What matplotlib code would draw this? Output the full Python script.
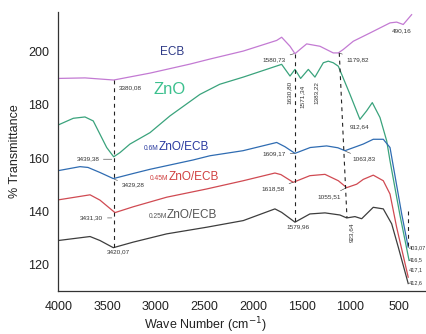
import matplotlib
matplotlib.use("Agg")
import matplotlib.pyplot as plt

plt.rcParams["font.family"] = ["Liberation Sans", "DejaVu Sans"]

# ---- data (wave number, % transmittance) ----
ecb_wn = [4000, 3726, 3431, 3058, 2647, 2442, 2100, 1757, 1706, 1620, 1569, 1518, 1449, 1312,
          1176, 1124, 1073, 970, 799, 593, 525, 457, 371]
ecb_t = [190.0, 190.2, 189.4, 192.0, 195.4, 197.3, 200.3, 204.3, 205.5, 202.1, 199.3, 200.9, 203.0, 202.1,
         199.6, 199.6, 200.9, 204.0, 207.1, 210.9, 211.2, 210.3, 214.0]

zno_wn = [4000, 3846, 3726, 3641, 3572, 3503, 3431, 3366, 3264, 3058, 2853, 2545, 2342, 2100, 1706,
          1620, 1569, 1511, 1432, 1364, 1278, 1227, 1176, 1124, 1004, 902, 833, 775, 696, 627, 593, 490, 397]
zno_t = [172.5, 175.0, 175.5, 174.0, 169.0, 164.0, 160.5, 162.1, 165.3, 169.6, 175.9, 184.0, 187.8, 190.5, 195.3,
         190.9, 193.4, 190.0, 193.4, 190.5, 195.9, 196.5, 195.9, 194.6, 184.0, 174.6, 177.8, 180.9, 175.3, 166.5,
         159.0, 138.4, 121.5]

m06_wn = [4000, 3777, 3695, 3572, 3435, 3233, 3058, 2617, 2442, 2103, 1757, 1672, 1569, 1412, 1244,
          1128, 1056, 935, 868, 765, 662, 593, 542, 473, 406]
m06_t = [155.3, 156.8, 156.5, 154.6, 152.3, 154.2, 155.8, 159.3, 160.9, 162.8, 165.9, 164.3, 161.8, 164.0, 164.6,
         163.9, 162.8, 164.4, 165.3, 167.1, 167.1, 164.0, 153.4, 139.0, 126.5]

m045_wn = [4000, 3674, 3572, 3418, 3230, 2887, 2476, 2100, 1775, 1713, 1587, 1416, 1261, 1124,
           1038, 935, 868, 765, 662, 593, 525, 406]
m045_t = [144.3, 146.2, 144.2, 139.5, 141.7, 145.3, 148.4, 151.5, 154.4, 153.8, 150.9, 153.4, 153.9, 151.5,
          148.9, 150.2, 152.0, 153.6, 151.5, 146.5, 134.0, 115.2]

m025_wn = [4000, 3674, 3572, 3435, 3230, 2887, 2476, 2100, 1775, 1706, 1569, 1416, 1261, 1107,
           1038, 953, 884, 765, 662, 576, 508, 406]
m025_t = [129.0, 130.5, 129.0, 126.3, 128.4, 131.5, 134.0, 136.5, 140.9, 139.6, 135.9, 139.0, 139.4, 138.6,
          137.5, 138.0, 137.2, 141.5, 140.9, 135.3, 126.5, 112.8]

xticks = [4000, 3500, 3000, 2500, 2000, 1500, 1000, 500]
yticks = [120, 140, 160, 180, 200]

c_ecb = "#c37ad3"
c_zno = "#3aa37c"
c_06 = "#2f6cb2"
c_045 = "#d04a52"
c_025 = "#3d3d3d"

fig = plt.figure(figsize=(4.27, 3.34), dpi=100)
ax = fig.add_axes([58.3 / 427, 1 - 291 / 334, 1 - 58.3 / 427, (291 - 12) / 334])

lw = 0.9
ax.plot(ecb_wn, ecb_t, color=c_ecb, lw=lw)
ax.plot(zno_wn, zno_t, color=c_zno, lw=lw)
ax.plot(m06_wn, m06_t, color=c_06, lw=lw)
ax.plot(m045_wn, m045_t, color=c_045, lw=lw)
ax.plot(m025_wn, m025_t, color=c_025, lw=lw)

ax.set_xlim(4000, 213)
ax.set_ylim(110, 215)
ax.set_xticks(xticks)
ax.set_yticks(yticks)
ax.tick_params(length=0, labelsize=9, colors="#222222")
ax.tick_params(axis="y", pad=6.5)
ax.tick_params(axis="x", pad=7)
for s in ["top", "right"]:
    ax.spines[s].set_visible(False)
for s in ["left", "bottom"]:
    ax.spines[s].set_color("#333333")
    ax.spines[s].set_linewidth(0.9)

fig.text(15 / 427, 1 - 151 / 334, "% Transmittance", rotation=90, ha="center", va="center", fontsize=9,
         color="#222222")
fig.text(205 / 427, 1 - 325 / 334, "Wave Number (cm$^{-1}$)", ha="center", va="center", fontsize=9,
         color="#222222")

# dashed guide lines
dash = dict(color="#222222", lw=0.8, linestyle=(0, (3.5, 3.5)))
ax.plot([3431, 3431], [189.3, 126.3], **dash)
ax.plot([1569, 1569], [199.3, 135.9], **dash)
ax.plot([1114, 1035], [199.6, 137.5], **dash)
ax.plot([406, 406], [140.2, 126.5], **dash)

# series labels
ax.text(2835, 200.0, "ECB", color="#2e3a87", fontsize=8.5, ha="center", va="center")
ax.text(2853, 185.9, "ZnO", color="#3cc08e", fontsize=12, ha="center", va="center")

def series_label(x, y, pre, color):
    ax.text(x, y, pre, color=color, fontsize=4.8, ha="right", va="baseline")
    ax.text(x, y, "ZnO/ECB", color=color, fontsize=8.5, ha="left", va="baseline")

series_label(2973, 163.1, "0.6M", "#2a3aa0")
series_label(2870, 151.9, "0.45M", "#d04040")
series_label(2887, 137.6, "0.25M", "#555555")

# peak annotations
fs = 4.6
tc = "#333333"
ax.text(3380, 186.5, "3380,08", fontsize=fs, color=tc, ha="left", va="center")
ax.annotate("3439,38", xy=(3450, 159.6), xytext=(3580, 159.6), fontsize=fs, color=tc, ha="right", va="center",
            arrowprops=dict(arrowstyle="-", lw=0.4, color=tc, shrinkA=1, shrinkB=0))
ax.annotate("3429,28", xy=(3425, 152.0), xytext=(3349, 149.9), fontsize=fs, color=tc, ha="left", va="center",
            arrowprops=dict(arrowstyle="-", lw=0.4, color=tc, shrinkA=1, shrinkB=0))
ax.annotate("3431,30", xy=(3450, 137.5), xytext=(3538, 137.5), fontsize=fs, color=tc, ha="right", va="center",
            arrowprops=dict(arrowstyle="-", lw=0.4, color=tc, shrinkA=1, shrinkB=0))
ax.text(3384, 124.6, "3420,07", fontsize=fs, color=tc, ha="center", va="center")
ax.annotate("1580,73", xy=(1580, 199.3), xytext=(1662, 197.1), fontsize=fs, color=tc, ha="right", va="center",
            arrowprops=dict(arrowstyle="-", lw=0.4, color=tc, shrinkA=1, shrinkB=0))
ax.annotate("1179,82", xy=(1110, 199.5), xytext=(1040, 197.1), fontsize=fs, color=tc, ha="left", va="center",
            arrowprops=dict(arrowstyle="-", lw=0.4, color=tc, shrinkA=1, shrinkB=0))
ax.text(473, 208.1, "490,16", fontsize=fs, color=tc, ha="center", va="center")
ax.text(1631, 184.6, "1630,80", fontsize=fs, color=tc, ha="center", va="center", rotation=90)
ax.text(1494, 183.4, "1571,34", fontsize=fs, color=tc, ha="center", va="center", rotation=90)
ax.text(1353, 184.6, "1383,22", fontsize=fs, color=tc, ha="center", va="center", rotation=90)
ax.text(1004, 171.8, "912,64", fontsize=fs, color=tc, ha="left", va="center")
ax.annotate("1609,17", xy=(1575, 161.8), xytext=(1661, 161.5), fontsize=fs, color=tc, ha="right", va="center",
            arrowprops=dict(arrowstyle="-", lw=0.4, color=tc, shrinkA=1, shrinkB=0))
ax.annotate("1063,83", xy=(1050, 162.6), xytext=(975, 159.6), fontsize=fs, color=tc, ha="left", va="center",
            arrowprops=dict(arrowstyle="-", lw=0.4, color=tc, shrinkA=1, shrinkB=0))
ax.annotate("1618,58", xy=(1590, 150.9), xytext=(1672, 148.4), fontsize=fs, color=tc, ha="right", va="center",
            arrowprops=dict(arrowstyle="-", lw=0.4, color=tc, shrinkA=1, shrinkB=0))
ax.annotate("1055,51", xy=(1045, 148.8), xytext=(1100, 145.5), fontsize=fs, color=tc, ha="right", va="center",
            arrowprops=dict(arrowstyle="-", lw=0.4, color=tc, shrinkA=1, shrinkB=0))
ax.text(1535, 134.0, "1579,96", fontsize=fs, color=tc, ha="center", va="center")
ax.text(987, 132.1, "923,64", fontsize=fs, color=tc, ha="center", va="center", rotation=90)
rfs = 4.0
ax.text(396, 126.3, "403,07", fontsize=rfs, color=tc, ha="left", va="center")
ax.text(396, 121.9, "416,5", fontsize=rfs, color=tc, ha="left", va="center")
ax.text(396, 118.0, "417,1", fontsize=rfs, color=tc, ha="left", va="center")
ax.text(396, 113.0, "412,6", fontsize=rfs, color=tc, ha="left", va="center")

fig.savefig("out.png", dpi=100)
